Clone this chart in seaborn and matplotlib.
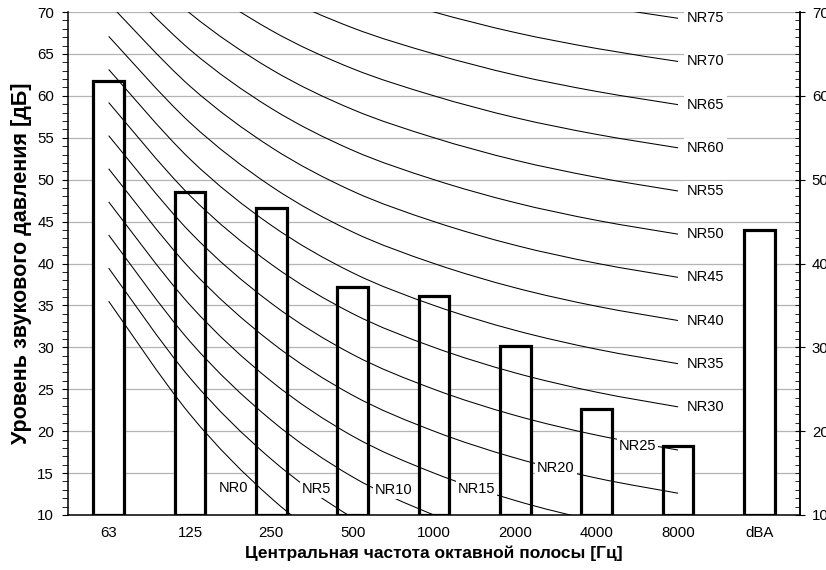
import numpy as np
import pandas as pd
import matplotlib
matplotlib.use("Agg")
import matplotlib.pyplot as plt
from matplotlib.path import Path
from matplotlib.patches import PathPatch
from matplotlib.ticker import MultipleLocator
import seaborn as sns

# Octave-band spectrum, dB
categories = ["63", "125", "250", "500", "1000", "2000", "4000", "8000", "dBA"]
levels = [61.8, 48.5, 46.6, 37.2, 36.1, 30.2, 22.6, 18.2, 44.0]

# NR rating curves: L = a + b * NR for each octave band 63..8000 Hz
nr_a = [35.5, 22.0, 12.0, 4.8, 0.0, -3.5, -6.1, -8.0]
nr_b = [0.790, 0.870, 0.930, 0.974, 1.000, 1.015, 1.025, 1.030]
nr_values = [0, 5, 10, 15, 20, 25, 30, 35, 40, 45, 50, 55, 60, 65, 70, 75]

# label anchor for each low NR curve (category index, dB)
label_pos = {
    0: (1.54, 13.2), 5: (2.55, 13.1), 10: (3.50, 13.0),
    15: (4.52, 13.1), 20: (5.50, 15.6), 25: (6.50, 18.2),
}

sns.set_theme(style="white")
plt.rcParams["font.family"] = ["Liberation Sans", "DejaVu Sans"]
plt.rcParams.update({
    "text.color": "black",
    "axes.labelcolor": "black",
    "xtick.color": "black",
    "ytick.color": "black",
})

fig = plt.figure(figsize=(8.26, 5.70), dpi=100)
ax = fig.add_axes([68 / 826, 1 - 515 / 570, 732 / 826, 503 / 570])

df = pd.DataFrame({"band": categories, "level": levels})
sns.barplot(data=df, x="band", y="level", order=categories, color="white",
            saturation=1, edgecolor="black", linewidth=2.3, width=0.38,
            ax=ax, zorder=2)
ymin, ymax = 10, 70
for patch, v in zip(ax.patches, levels):
    patch.set_y(ymin)
    patch.set_height(v - ymin)
    patch.set_joinstyle("miter")


def smooth_path(xs, ys):
    # cubic Bezier segments through the points (Catmull-Rom style tangents)
    pts = np.column_stack([xs, ys])
    n = len(pts)
    verts = [pts[0]]
    codes = [Path.MOVETO]
    for i in range(n - 1):
        p0 = pts[max(i - 1, 0)]
        p1 = pts[i]
        p2 = pts[i + 1]
        p3 = pts[min(i + 2, n - 1)]
        c1 = p1 + (p2 - p0) / 6.0
        c2 = p2 - (p3 - p1) / 6.0
        verts += [c1, c2, p2]
        codes += [Path.CURVE4] * 3
    return Path(verts, codes)


band_x = np.arange(len(nr_a))
for nr in nr_values:
    curve = [a + b * nr for a, b in zip(nr_a, nr_b)]
    patch = PathPatch(smooth_path(band_x, curve), fill=False,
                      edgecolor="black", linewidth=0.75, zorder=3)
    ax.add_patch(patch)
    patch.set_clip_path(ax.patch)
    if nr in label_pos:
        lx, ly = label_pos[nr]
        ax.text(lx, ly, f"NR{nr}", ha="center", va="center", fontsize=10.5,
                zorder=4, bbox=dict(boxstyle="square,pad=0.12",
                                    facecolor="white", edgecolor="none"))
    elif curve[-1] <= ymax:
        ax.text(7.11, curve[-1], f"NR{nr}", ha="left", va="center",
                fontsize=10.5, zorder=4,
                bbox=dict(boxstyle="square,pad=0.2", facecolor="white",
                          edgecolor="none"))

ax.set_xlim(-0.5, len(categories) - 0.5)
ax.set_ylim(ymin, ymax)
ax.yaxis.set_major_locator(MultipleLocator(5))
ax.yaxis.set_minor_locator(MultipleLocator(1))
ax.set_axisbelow(True)
ax.yaxis.grid(True, which="major", color="#b4b4b4", linewidth=0.9, zorder=0)
ax.xaxis.grid(False)

ax.tick_params(axis="y", which="major", direction="out", length=4.5,
               width=0.8, color="black", left=True, pad=5.5, labelsize=10.8)
ax.tick_params(axis="y", which="minor", direction="out", length=4.5,
               width=0.6, color="black", left=True)
ax.tick_params(axis="x", length=0, pad=8, labelsize=10.8)

for side in ["left", "bottom", "right"]:
    ax.spines[side].set_color("black")
    ax.spines[side].set_linewidth(1.1)
ax.spines["top"].set_visible(False)

ax.set_xlabel("Центральная частота октавной полосы [Гц]", fontsize=12.5,
              fontweight="bold", labelpad=4)
ax.set_ylabel("Уровень звукового давления [дБ]", fontsize=15.5,
              fontweight="bold", labelpad=4)

ax2 = ax.twinx()
ax2.set_ylim(ymin, ymax)
ax2.yaxis.set_major_locator(MultipleLocator(10))
ax2.yaxis.set_minor_locator(MultipleLocator(1))
ax2.tick_params(axis="y", which="major", direction="inout", length=7,
                width=0.8, color="black", right=True, pad=5, labelsize=10.8)
ax2.tick_params(axis="y", which="minor", direction="in", length=3.5,
                width=0.6, color="black", right=True)
ax2.grid(False)
ax2.spines["right"].set_color("black")
ax2.spines["right"].set_linewidth(1.1)
for side in ["top", "left", "bottom"]:
    ax2.spines[side].set_visible(False)

fig.savefig("out.png", dpi=100, facecolor="white")
